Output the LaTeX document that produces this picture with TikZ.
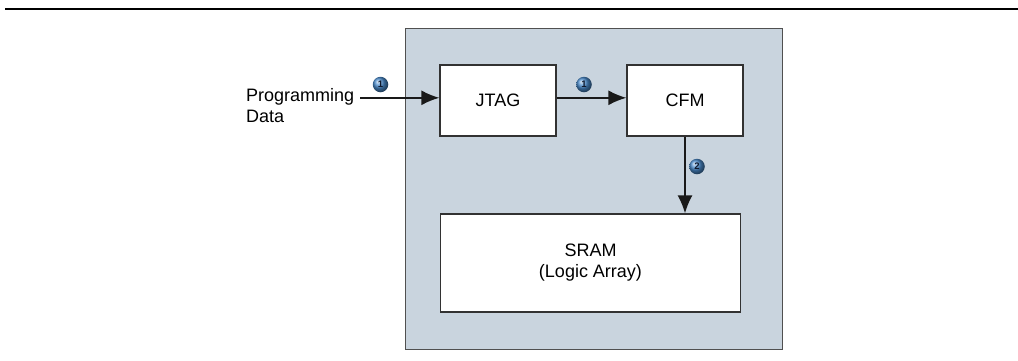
\documentclass[tikz,border=0pt]{standalone}
\usepackage{fontspec}
\setmainfont{Liberation Sans}
\usetikzlibrary{arrows.meta,calc}
\definecolor{panelfill}{RGB}{201,212,222}
\definecolor{panelline}{RGB}{80,80,80}
\definecolor{boxline}{RGB}{50,50,50}
\definecolor{badgeblue}{RGB}{75,140,205}
\begin{document}
\begin{tikzpicture}[x=1pt,y=-1pt,
  every node/.style={font=\fontsize{18}{21}\selectfont},
  blockbox/.style={draw=boxline,line width=1.4pt,fill=white,inner sep=0},
  flow/.style={line width=1.4pt,draw=black!90,-{Latex[length=18pt,width=15pt]}},
  badge/.style={circle,inner sep=0,minimum size=15.5pt,ball color=badgeblue,
    font=\fontsize{9.5}{9.5}\selectfont\bfseries,text={rgb,255:red,15;green,25;blue,45}}]
\useasboundingbox (0,0) rectangle (1018,360);
% top rule
\draw[line width=2pt] (5,9) -- (1018,9);
% panel
\node[draw=panelline,fill=panelfill,line width=1.6pt,minimum width=377pt,minimum height=321pt,inner sep=0] (panel) at (594,189) {};
% blocks
\node[blockbox,minimum width=116pt,minimum height=71pt] (jtag) at (498,100.5) {JTAG};
\node[blockbox,minimum width=116pt,minimum height=71pt] (cfm) at (685,100.5) {CFM};
\node[blockbox,minimum width=300pt,minimum height=98pt,align=center] (sram) at (590.5,263) {SRAM\\(Logic Array)};
% label
\node[anchor=west,align=left,inner sep=0] (lbl) at (246,106) {Programming\\Data};
\coordinate (in) at (360,97.8);
% connectors
\draw[flow] (in) -- (in -| jtag.west);
\draw[flow] (jtag.east |- in) -- (cfm.west |- in);
\draw[flow] (cfm.south) -- (cfm.south |- sram.north);
% badges
\node[badge] (b1) at (380.5,84.5) {1};
\node[badge] (b2) at (584,84.5) {1};
\node[badge] (b3) at (697,166.5) {2};
\end{tikzpicture}
\end{document}
